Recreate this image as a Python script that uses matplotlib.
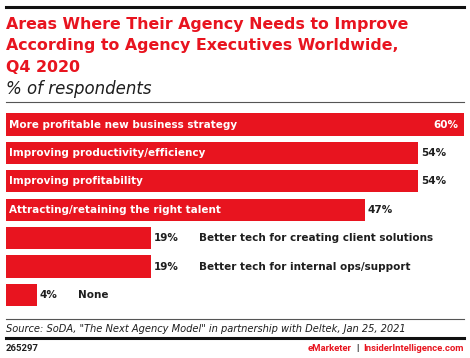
import matplotlib
matplotlib.use("Agg")
import matplotlib.pyplot as plt
from matplotlib.lines import Line2D

categories = [
    "More profitable new business strategy",
    "Improving productivity/efficiency",
    "Improving profitability",
    "Attracting/retaining the right talent",
    "Better tech for creating client solutions",
    "Better tech for internal ops/support",
    "None",
]
values = [60, 54, 54, 47, 19, 19, 4]
value_labels = ["60%", "54%", "54%", "47%", "19%", "19%", "4%"]

title_lines = [
    "Areas Where Their Agency Needs to Improve",
    "According to Agency Executives Worldwide,",
    "Q4 2020",
]
subtitle = "% of respondents"
source = 'Source: SoDA, "The Next Agency Model" in partnership with Deltek, Jan 25, 2021'
chart_id = "265297"

RED = "#e8141f"
DARK = "#1e1e1e"
FONT = "DejaVu Sans"
FOOT = "Roboto"

W, H = 470, 358
fig = plt.figure(figsize=(W / 100, H / 100), dpi=100)
fig.patch.set_facecolor("white")


def fx(px):
    return px / W


def fy(py):
    return 1 - py / H


def hline(y, x0, x1, color, lw):
    fig.add_artist(Line2D([fx(x0), fx(x1)], [fy(y), fy(y)], color=color, lw=lw,
                          transform=fig.transFigure))


# header
hline(6.5, 6, 464, "#111111", 2.2)
for k, line in enumerate(title_lines):
    fig.text(fx(6), fy(28.5 + 21.5 * k), line, color=RED, fontsize=11.45,
             fontweight="bold", family=FONT, va="baseline", ha="left")
fig.text(fx(6), fy(94), subtitle, color=DARK, fontsize=12, style="italic",
         family=FONT, va="baseline", ha="left")
hline(102, 6, 464, "#555555", 0.8)

# bars
ax = fig.add_axes([fx(6), fy(309.2), fx(458), (309.2 - 110.3) / H])
ypos = list(range(len(values)))
ax.barh(ypos, values, height=0.78, color=RED, edgecolor="none")
ax.set_xlim(0, 60)
ax.set_ylim(len(values) - 0.5, -0.5)
ax.axis("off")

fs = 7.5
for i, (cat, v, lab) in enumerate(zip(categories, values, value_labels)):
    if v == max(values):
        ax.text(0.4, i, cat, color="white", fontsize=fs, fontweight="bold",
                family=FONT, va="center", ha="left")
        ax.text(v - 0.8, i, lab, color="white", fontsize=fs, fontweight="bold",
                family=FONT, va="center", ha="right")
    elif v >= 30:
        ax.text(0.4, i, cat, color="white", fontsize=fs, fontweight="bold",
                family=FONT, va="center", ha="left")
        ax.text(v + 0.4, i, lab, color=DARK, fontsize=fs, fontweight="bold",
                family=FONT, va="center", ha="left")
    else:
        vt = ax.text(v + 0.4, i, lab, color=DARK, fontsize=fs, fontweight="bold",
                     family=FONT, va="center", ha="left")
        ax.annotate(cat, xy=(1, 0.5), xycoords=vt, xytext=(14.5, 0),
                    textcoords="offset points", color=DARK, fontsize=fs,
                    fontweight="bold", family=FONT, va="center", ha="left")

# footer
hline(319, 6, 464, "#555555", 0.8)
fig.text(fx(6), fy(331.5), source, color=DARK, fontsize=7.1, style="italic",
         family=FONT, va="baseline", ha="left")
hline(337.5, 6, 464, "#111111", 2.2)
fig.text(fx(6), fy(351), chart_id, color=DARK, fontsize=6.8, fontweight="bold",
         family=FOOT, va="baseline", ha="left")
t1 = fig.text(fx(464), fy(351), "InsiderIntelligence.com", color=RED, fontsize=6.8,
              fontweight="bold", family=FOOT, va="baseline", ha="right")
fig.canvas.draw()
bb = t1.get_window_extent()
t2 = fig.text(bb.x0 / W - fx(5), fy(351), "|", color=DARK, fontsize=6.8,
              fontweight="bold", family=FOOT, va="baseline", ha="right")
bb2 = t2.get_window_extent()
fig.text(bb2.x0 / W - fx(5), fy(351), "eMarketer", color=RED, fontsize=6.8,
         fontweight="bold", family=FOOT, va="baseline", ha="right")

fig.savefig("out.png", dpi=100)
